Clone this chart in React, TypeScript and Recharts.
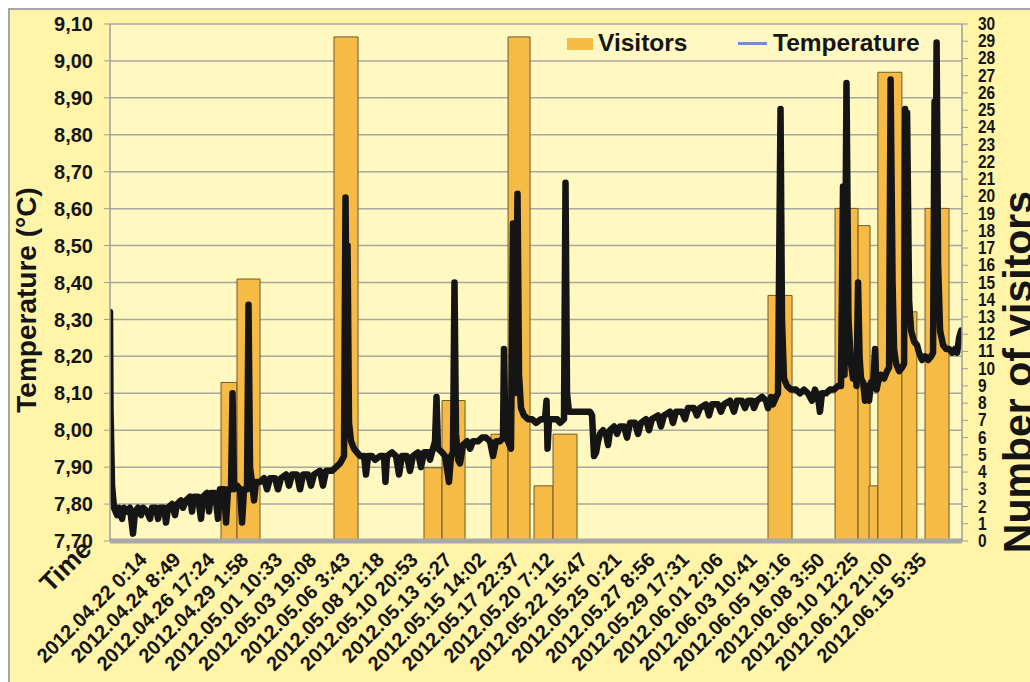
import React from 'react';
import { ComposedChart, Line, XAxis, YAxis, CartesianGrid, ReferenceArea, Legend } from 'recharts';

// ---------- data ----------
// x values are hours since 2012.04.22 0:14 (the first axis label)
const timeLabels = [
  '2012.04.22 0:14', '2012.04.24 8:49', '2012.04.26 17:24', '2012.04.29 1:58',
  '2012.05.01 10:33', '2012.05.03 19:08', '2012.05.06 3:43', '2012.05.08 12:18',
  '2012.05.10 20:53', '2012.05.13 5:27', '2012.05.15 14:02', '2012.05.17 22:37',
  '2012.05.20 7:12', '2012.05.22 15:47', '2012.05.25 0:21', '2012.05.27 8:56',
  '2012.05.29 17:31', '2012.06.01 2:06', '2012.06.03 10:41', '2012.06.05 19:16',
  '2012.06.08 3:50', '2012.06.10 12:25', '2012.06.12 21:00', '2012.06.15 5:35',
];

const temperatureTicks = [7.7, 7.8, 7.9, 8.0, 8.1, 8.2, 8.3, 8.4, 8.5, 8.6, 8.7, 8.8, 8.9, 9.0, 9.1];
const visitorTicks = [0, 1, 2, 3, 4, 5, 6, 7, 8, 9, 10, 11, 12, 13, 14, 15, 16, 17, 18, 19, 20, 21, 22, 23, 24, 25, 26, 27, 28, 29, 30];

// visitor groups: start hour, end hour, number of visitors
const visitStart = [123.5, 150.2, 312.1, 462.3, 492.4, 574.2, 602.6, 646.0, 677.7, 1036.5, 1148.4, 1186.8, 1205.1, 1219.9, 1260.0, 1298.6];
const visitEnd = [150.2, 188.6, 352.2, 492.4, 530.8, 602.6, 639.3, 677.7, 717.7, 1076.6, 1186.8, 1206.8, 1219.9, 1260.0, 1285.0, 1338.6];
const visitCount = [9.2, 15.2, 29.25, 4.25, 8.15, 6.2, 29.25, 3.2, 6.2, 14.25, 19.3, 18.3, 3.2, 27.2, 13.3, 19.3];

// temperature readings: [hour, °C]
const temperatureReadings: [number, number][] = [
  [-61.8, 8.32], [-61.0, 8.06], [-58.4, 7.85], [-55.1, 7.79], [-50.1, 7.77], [-46.7, 7.79], [-41.7, 7.76],
  [-38.4, 7.79], [-33.4, 7.78], [-28.4, 7.79], [-23.4, 7.72], [-20.0, 7.78], [-15.0, 7.79], [-10.0, 7.77],
  [-6.7, 7.79], [0, 7.78], [5.0, 7.76], [8.3, 7.79], [15.0, 7.79], [18.4, 7.76], [21.7, 7.79], [28.4, 7.79],
  [31.7, 7.75], [35.0, 7.79], [41.7, 7.80], [46.7, 7.77], [50.1, 7.80], [56.7, 7.81], [60.1, 7.79], [65.1, 7.81],
  [71.8, 7.82], [75.1, 7.78], [78.4, 7.82], [85.1, 7.82], [90.1, 7.76], [93.5, 7.82], [100.1, 7.83], [103.5, 7.78],
  [106.8, 7.83], [113.5, 7.83], [118.5, 7.76], [121.8, 7.84], [128.5, 7.84], [131.9, 7.75], [135.2, 7.84],
  [140.2, 7.84], [142.7, 8.10], [145.2, 7.84], [150.2, 7.85], [155.2, 7.84], [158.6, 7.75], [161.9, 7.84],
  [166.9, 7.84], [169.4, 8.34], [171.9, 7.90], [175.2, 7.86], [178.6, 7.81], [181.9, 7.86], [188.6, 7.86],
  [195.3, 7.87], [200.3, 7.84], [205.3, 7.87], [213.6, 7.87], [218.6, 7.84], [223.6, 7.87], [232.0, 7.88],
  [237.0, 7.85], [242.0, 7.88], [250.4, 7.88], [255.4, 7.84], [260.4, 7.88], [268.7, 7.88], [273.7, 7.85],
  [278.7, 7.88], [288.7, 7.89], [293.7, 7.85], [298.8, 7.89], [308.8, 7.89], [315.5, 7.90], [322.1, 7.91],
  [328.8, 7.93], [331.3, 8.63], [333.0, 8.30], [334.7, 8.50], [337.1, 8.02], [340.5, 7.97], [345.5, 7.95],
  [350.5, 7.94], [355.5, 7.93], [362.2, 7.93], [365.5, 7.88], [368.9, 7.93], [375.5, 7.93], [380.5, 7.92],
  [388.9, 7.93], [395.5, 7.93], [398.0, 7.86], [400.6, 7.93], [408.9, 7.94], [415.6, 7.93], [420.6, 7.88],
  [425.6, 7.93], [433.9, 7.93], [438.9, 7.89], [443.9, 7.93], [452.3, 7.94], [457.3, 7.90], [462.3, 7.94],
  [469.0, 7.94], [472.3, 7.92], [477.3, 7.95], [480.7, 7.97], [483.2, 8.09], [485.7, 7.95], [492.4, 7.94],
  [497.4, 7.93], [504.0, 7.86], [507.4, 7.93], [510.7, 7.94], [513.2, 8.40], [515.7, 7.99], [519.1, 7.92],
  [522.4, 7.91], [527.4, 7.96], [534.1, 7.97], [539.1, 7.95], [544.1, 7.97], [552.4, 7.97], [559.1, 7.98],
  [565.8, 7.98], [572.5, 7.97], [577.5, 7.93], [582.5, 7.97], [589.2, 7.97], [594.2, 7.98], [595.8, 8.22],
  [598.3, 7.98], [602.5, 7.97], [607.5, 7.95], [610.9, 8.56], [613.4, 8.10], [615.9, 8.30], [618.4, 8.64],
  [620.9, 8.15], [624.2, 8.06], [629.2, 8.04], [635.9, 8.03], [642.6, 8.03], [649.3, 8.02], [657.6, 8.03],
  [664.3, 8.03], [666.8, 8.08], [668.5, 7.95], [671.0, 8.03], [677.7, 8.03], [684.4, 8.03], [689.3, 8.02],
  [696.0, 8.03], [698.5, 8.67], [701.0, 8.10], [704.4, 8.05], [712.7, 8.05], [722.8, 8.05], [731.1, 8.05],
  [739.4, 8.05], [742.8, 8.04], [746.1, 7.93], [749.5, 7.94], [752.8, 7.97], [756.1, 7.99], [761.2, 8.00],
  [766.1, 7.99], [769.6, 7.96], [772.8, 8.00], [779.5, 8.01], [784.4, 7.99], [789.5, 8.01], [796.2, 8.01],
  [801.2, 7.98], [806.2, 8.02], [814.5, 8.02], [819.5, 7.99], [824.5, 8.02], [832.9, 8.03], [837.9, 8.00],
  [842.8, 8.03], [852.9, 8.04], [857.9, 8.01], [862.9, 8.04], [872.9, 8.05], [877.9, 8.02], [882.9, 8.05],
  [892.9, 8.05], [897.9, 8.03], [902.9, 8.06], [912.9, 8.06], [917.9, 8.04], [923.0, 8.06], [933.0, 8.07],
  [938.0, 8.04], [943.0, 8.07], [953.0, 8.07], [958.0, 8.05], [963.0, 8.07], [973.0, 8.08], [979.7, 8.05],
  [984.7, 8.08], [993.1, 8.08], [998.1, 8.06], [1003.1, 8.08], [1009.8, 8.08], [1013.1, 8.06], [1018.1, 8.08],
  [1026.5, 8.09], [1033.1, 8.08], [1036.5, 8.06], [1041.5, 8.09], [1044.8, 8.07], [1049.9, 8.09], [1053.2, 8.10],
  [1057.4, 8.87], [1059.8, 8.30], [1063.2, 8.14], [1068.2, 8.12], [1074.9, 8.11], [1083.2, 8.11], [1089.9, 8.10],
  [1096.5, 8.11], [1103.2, 8.10], [1109.9, 8.08], [1114.9, 8.11], [1119.9, 8.09], [1123.2, 8.05], [1126.6, 8.10],
  [1133.3, 8.10], [1139.9, 8.11], [1146.6, 8.11], [1153.3, 8.12], [1158.3, 8.12], [1161.7, 8.66], [1164.2, 8.15],
  [1167.5, 8.94], [1170.8, 8.30], [1175.0, 8.18], [1178.4, 8.14], [1181.7, 8.18], [1184.2, 8.12], [1186.8, 8.40],
  [1189.3, 8.20], [1191.8, 8.14], [1195.2, 8.13], [1198.5, 8.08], [1201.8, 8.12], [1205.2, 8.08], [1208.5, 8.13],
  [1211.8, 8.12], [1215.2, 8.22], [1217.7, 8.11], [1220.2, 8.13], [1225.2, 8.15], [1230.2, 8.14], [1235.2, 8.16],
  [1238.6, 8.17], [1241.1, 8.95], [1244.4, 8.40], [1246.9, 8.22], [1250.3, 8.18], [1255.3, 8.16], [1260.3, 8.17],
  [1263.6, 8.18], [1265.3, 8.87], [1267.0, 8.40], [1268.6, 8.86], [1272.0, 8.35], [1275.3, 8.27], [1280.3, 8.24],
  [1285.3, 8.23], [1288.6, 8.21], [1293.7, 8.19], [1298.7, 8.20], [1303.7, 8.19], [1308.7, 8.20], [1312.0, 8.21],
  [1314.5, 8.89], [1316.2, 8.60], [1317.9, 9.05], [1320.4, 8.45], [1323.7, 8.27], [1328.8, 8.23], [1333.8, 8.22],
  [1338.8, 8.22], [1343.8, 8.21], [1348.8, 8.22], [1352.2, 8.21], [1355.5, 8.25], [1358.9, 8.27],
];

const timeDomain: [number, number] = [-61.8, 1360.3];

// ---------- derived ----------
const parseStamp = (s: string) => {
  const [d, t] = s.split(' ');
  const [y, mo, da] = d.split('.').map(Number);
  const [hh, mm] = t.split(':').map(Number);
  return Date.UTC(y, mo - 1, da, hh, mm);
};
const base = parseStamp(timeLabels[0]);
const tickHours = timeLabels.map((s) => (parseStamp(s) - base) / 3600000);
const chartData = temperatureReadings.map(([t, v]) => ({ t, temp: v }));

// ---------- styling ----------
const FONT = "'Liberation Sans', Arial, Helvetica, sans-serif";
const OUTER_BG = '#FFF4A8';
const PLOT_BG = '#FFF8C0';
const BAR_FILL = '#F6BB44';
const BAR_STROKE = '#6E5A2C';
const LINE_COLOR = '#151515';
const LEGEND_LINE = '#6F8FC6';
const GRID = '#A8A8A0';
const TEXT = '#151515';

const W = 1040;
const H = 700;

const labelForHour = (v: number) => {
  let best = 0;
  tickHours.forEach((h, i) => {
    if (Math.abs(h - v) < Math.abs(tickHours[best] - v)) best = i;
  });
  return timeLabels[best];
};

const TimeTick = (props: any) => {
  const { x, y, payload } = props;
  const ax = x + 1;
  const ay = y + 20;
  return (
    <text x={ax} y={ay} transform={`rotate(-45 ${ax} ${ay})`} textAnchor="end"
      fontFamily={FONT} fontWeight={700} fontSize={20} fill={TEXT}>
      {labelForHour(payload.value)}
    </text>
  );
};

const VisitorTick = (props: any) => {
  const { x, y, payload } = props;
  return (
    <text x={0} y={0} transform={`translate(${x} ${y + 6}) scale(0.86 1)`} textAnchor="start"
      fontFamily={FONT} fontWeight={700} fontSize={18} fill={TEXT}>
      {payload.value}
    </text>
  );
};

const TimeTitle = () => (
  <text x={83} y={541} transform="rotate(-45 83 541)" textAnchor="end"
    fontFamily={FONT} fontWeight={700} fontSize={26} fill={TEXT}>Time</text>
);

const TempTitle = () => (
  <text x={26} y={290} transform="rotate(-90 26 290)" textAnchor="middle"
    fontFamily={FONT} fontWeight={700} fontSize={28} fill={TEXT}>Temperature (°C)</text>
);

const VisitorTitle = () => (
  <text x={1022} y={362} transform="rotate(-90 1022 362)" textAnchor="middle"
    fontFamily={FONT} fontWeight={700} fontSize={41} fill={TEXT}>Number of visitors</text>
);

const renderLegend = () => (
  <div style={{ position: 'relative', width: 380, height: 30, fontFamily: FONT, fontWeight: 700, fontSize: 24.5, color: TEXT }}>
    <div style={{ position: 'absolute', left: 0, top: 9, width: 26, height: 12, background: BAR_FILL }} />
    <span style={{ position: 'absolute', left: 31, top: 0, lineHeight: '28px', whiteSpace: 'nowrap' }}>Visitors</span>
    <div style={{ position: 'absolute', left: 171, top: 13, width: 29, height: 3, background: LEGEND_LINE }} />
    <span style={{ position: 'absolute', left: 206, top: 0, lineHeight: '28px', whiteSpace: 'nowrap' }}>Temperature</span>
  </div>
);

export default function App() {
  return (
    <div style={{ position: 'fixed', left: 8, top: 8, width: 1022, height: 674, overflow: 'hidden' }}>
      <div style={{ width: W, height: H, background: OUTER_BG, borderTop: '2px solid #A6A6A6', borderLeft: '2px solid #A6A6A6' }}>
        <ComposedChart width={W} height={H} data={chartData} margin={{ top: 14, right: 0, bottom: 0, left: 0 }}>
          <CartesianGrid yAxisId="left" vertical={false} stroke={GRID} strokeWidth={1.5} fill={PLOT_BG} fillOpacity={1} />
          <XAxis
            dataKey="t" type="number" domain={timeDomain} allowDataOverflow ticks={tickHours} interval={0}
            height={169} tickLine={false} tickSize={0} tickMargin={0} tick={<TimeTick />}
            axisLine={{ stroke: '#A9A9A9', strokeWidth: 5 }}
            label={TimeTitle}
          />
          <YAxis
            yAxisId="left" orientation="left" width={100} domain={[7.7, 9.1]} allowDataOverflow
            ticks={temperatureTicks} interval={0} tickSize={6} tickMargin={11}
            tickFormatter={(v: number) => v.toFixed(2).replace('.', ',')}
            tick={{ fontFamily: FONT, fontWeight: 700, fontSize: 20, fill: TEXT }}
            axisLine={{ stroke: '#9E9E9E', strokeWidth: 1.5 }} tickLine={{ stroke: '#9E9E9E' }}
            label={TempTitle}
          />
          <YAxis
            yAxisId="right" orientation="right" width={88} domain={[0, 30]} allowDataOverflow
            ticks={visitorTicks} interval={0} tickSize={6} tickMargin={10}
            tick={<VisitorTick />}
            axisLine={{ stroke: '#9E9E9E', strokeWidth: 1.5 }} tickLine={{ stroke: '#9E9E9E' }}
            label={VisitorTitle}
          />
          {visitStart.map((s, i) => (
            <ReferenceArea
              key={`v${i}`} yAxisId="right" x1={s} x2={visitEnd[i]} y1={0} y2={visitCount[i]}
              fill={BAR_FILL} fillOpacity={1} stroke={BAR_STROKE} strokeWidth={1} ifOverflow="visible"
            />
          ))}
          <Line
            yAxisId="left" type="linear" dataKey="temp" stroke={LINE_COLOR} strokeWidth={6.5}
            strokeLinejoin="round" strokeLinecap="round" dot={false} activeDot={false}
            isAnimationActive={false}
          />
          <Legend content={renderLegend} verticalAlign="middle" align="center" layout="horizontal"
            wrapperStyle={{ left: 557, top: 19, width: 380, height: 30 }} />
        </ComposedChart>
      </div>
    </div>
  );
}
